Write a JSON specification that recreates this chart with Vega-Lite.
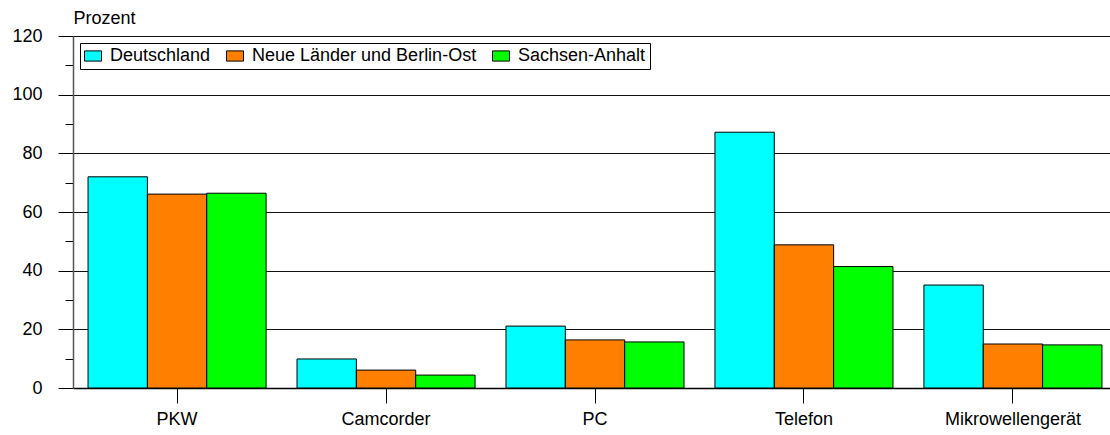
{
  "$schema": "https://vega.github.io/schema/vega-lite/v6.json",
  "width": 1037,
  "height": 352,
  "autosize": {"type": "none"},
  "padding": {"left": 73, "top": 36, "right": 0, "bottom": 47},
  "background": "white",
  "config": {
    "font": "Liberation Sans",
    "view": {"stroke": null}
  },
  "data": {
    "values": [
      {"kat": "PKW", "region": "Deutschland", "wert": 72.0},
      {"kat": "PKW", "region": "Neue Länder und Berlin-Ost", "wert": 66.1},
      {"kat": "PKW", "region": "Sachsen-Anhalt", "wert": 66.4},
      {"kat": "Camcorder", "region": "Deutschland", "wert": 9.9},
      {"kat": "Camcorder", "region": "Neue Länder und Berlin-Ost", "wert": 6.1},
      {"kat": "Camcorder", "region": "Sachsen-Anhalt", "wert": 4.4},
      {"kat": "PC", "region": "Deutschland", "wert": 21.1},
      {"kat": "PC", "region": "Neue Länder und Berlin-Ost", "wert": 16.4},
      {"kat": "PC", "region": "Sachsen-Anhalt", "wert": 15.7},
      {"kat": "Telefon", "region": "Deutschland", "wert": 87.2},
      {"kat": "Telefon", "region": "Neue Länder und Berlin-Ost", "wert": 48.8},
      {"kat": "Telefon", "region": "Sachsen-Anhalt", "wert": 41.4},
      {"kat": "Mikrowellengerät", "region": "Deutschland", "wert": 35.1},
      {"kat": "Mikrowellengerät", "region": "Neue Länder und Berlin-Ost", "wert": 15.0},
      {"kat": "Mikrowellengerät", "region": "Sachsen-Anhalt", "wert": 14.7}
    ]
  },
  "mark": {"type": "bar", "stroke": "black", "strokeWidth": 1},
  "encoding": {
    "x": {
      "field": "kat",
      "type": "nominal",
      "sort": ["PKW", "Camcorder", "PC", "Telefon", "Mikrowellengerät"],
      "scale": {"paddingInner": 0.148, "paddingOuter": 0.072, "range": [0, 1044]},
      "axis": {
        "title": null,
        "labelAngle": 0,
        "labelFontSize": 18,
        "labelColor": "#000",
        "labelPadding": 7,
        "labelLimit": 0,
        "tickSize": 15,
        "tickColor": "#000",
        "domainColor": "#000",
        "domainWidth": 1.5
      }
    },
    "xOffset": {
      "field": "region",
      "type": "nominal",
      "sort": ["Deutschland", "Neue Länder und Berlin-Ost", "Sachsen-Anhalt"]
    },
    "y": {
      "field": "wert",
      "type": "quantitative",
      "scale": {"domain": [0, 120], "nice": false},
      "axis": {
        "title": "Prozent",
        "titleAngle": 0,
        "titleAlign": "left",
        "titleBaseline": "alphabetic",
        "titleX": 0,
        "titleY": -13,
        "titleFontSize": 18,
        "titleFontWeight": "normal",
        "titleColor": "#000",
        "values": [0, 10, 20, 30, 40, 50, 60, 70, 80, 90, 100, 110, 120],
        "labelExpr": "datum.value % 20 === 0 ? datum.label : ''",
        "labelFontSize": 18,
        "labelColor": "#000",
        "labelPadding": 16,
        "tickSize": {"condition": {"test": "datum.value % 20 === 0", "value": 15}, "value": 8},
        "tickColor": "#000",
        "gridColor": "#111",
        "gridOpacity": {"condition": {"test": "datum.value % 20 === 0", "value": 1}, "value": 0},
        "domainColor": "#555",
        "domainWidth": 1.5
      }
    },
    "color": {
      "field": "region",
      "type": "nominal",
      "scale": {
        "domain": ["Deutschland", "Neue Länder und Berlin-Ost", "Sachsen-Anhalt"],
        "range": ["#00FFFF", "#FF8000", "#00FF00"]
      },
      "legend": {
        "title": null,
        "orient": "none",
        "legendX": 7,
        "legendY": 7,
        "direction": "horizontal",
        "strokeColor": "#000",
        "fillColor": "white",
        "padding": 4,
        "labelFontSize": 18,
        "labelColor": "#000",
        "labelOffset": 8,
        "labelLimit": 0,
        "columnPadding": 13,
        "symbolType": "M-1,-0.6H1V0.6H-1Z",
        "symbolSize": 289,
        "symbolStrokeColor": "#000",
        "symbolStrokeWidth": 1,
        "symbolOpacity": 1
      }
    }
  }
}
